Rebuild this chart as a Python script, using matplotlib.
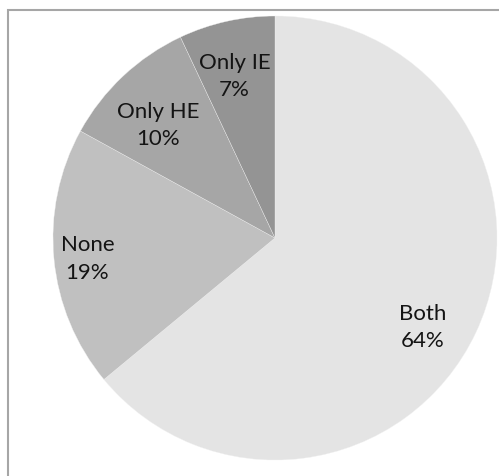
import numpy as np
import matplotlib
matplotlib.use("Agg")
import matplotlib.pyplot as plt
from matplotlib.patches import Rectangle

categories = ["Both", "None", "Only HE", "Only IE"]
shares = [64, 19, 10, 7]
colors = ["#e4e4e4", "#c0c0c0", "#a6a6a6", "#949494"]

W, H = 499, 476
fig = plt.figure(figsize=(W / 100, H / 100), dpi=100)
fig.patch.set_facecolor("white")

# chart-area frame (runs off the right and bottom edge)
fig.add_artist(Rectangle((8 / W, -0.1), 1.2, 1.1 - 10 / H,
                         transform=fig.transFigure, fill=False,
                         edgecolor="#a6a6a6", linewidth=1.5))

cx, cy, r = 275, 238, 222
ax = fig.add_axes([(cx - r) / W, (H - cy - r) / H, 2 * r / W, 2 * r / H])
wedges, _ = ax.pie(shares, colors=colors, startangle=90, counterclock=False,
                   wedgeprops=dict(edgecolor="#f0f0f0", linewidth=0.25))
ax.set_xlim(-1, 1)
ax.set_ylim(-1, 1)
ax.set_aspect("equal")
ax.axis("off")

# label placement: radial distance and small angular nudge per wedge
dist = [0.78, 0.85, 0.73, 0.75]
nudge = [-6, 1, 3, 1.5]
for w, name, v, d, dn in zip(wedges, categories, shares, dist, nudge):
    ang = np.deg2rad((w.theta1 + w.theta2) / 2 + dn)
    ax.text(d * np.cos(ang), d * np.sin(ang), f"{name}\n{v}%",
            ha="center", va="center", fontsize=16, family="Lato",
            color="#141414", linespacing=1.45)

fig.savefig("out.png", dpi=100)
